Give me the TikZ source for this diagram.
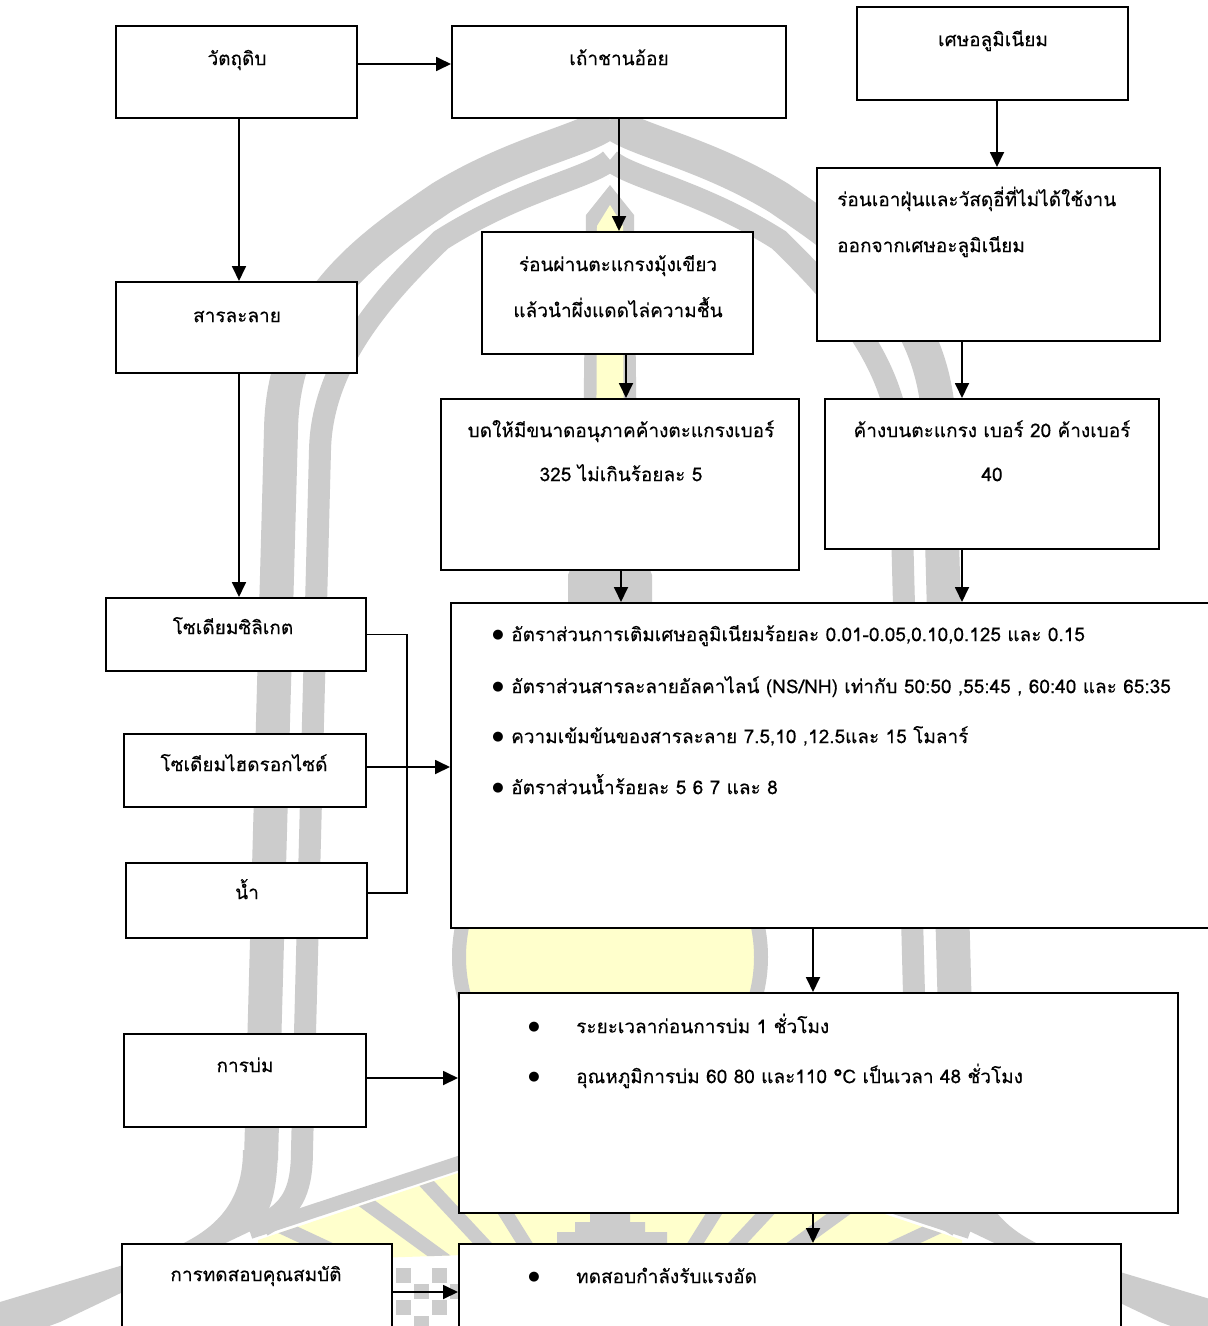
\documentclass[tikz,border=0pt]{standalone}
\usepackage{fontspec}
\newfontfamily\thaifont[Script=Thai, FakeBold=0.25]{Loma}
\newfontfamily\symfont{DejaVu Sans}
\usetikzlibrary{arrows.meta,fit}
\definecolor{wmgrey}{RGB}{204,204,204}
\definecolor{wmyellow}{RGB}{255,255,204}

% one half of the background crest (the other half is its mirror image)
\newcommand\crestHalf{%
  \fill[wmgrey] (243,1150) .. controls (243,1212) and (205,1238) .. (150,1257)
     -- (-10,1305) -- (-10,1348) -- (60,1322) -- (255,1229)
     .. controls (271,1214) and (277,1192) .. (278,1150) -- cycle;
  \draw[wmgrey, line width=34] (261,1160) -- (281,430)
     .. controls (283,300) and (380,240) .. (441,198)
     .. controls (520,150) and (590,140) .. (610,120);
  \draw[wmgrey, line width=22] (262,1226) .. controls (290,1210) and (302,1195) .. (302,1150)
     -- (320,450) .. controls (322,360) and (390,290) .. (441,240)
     .. controls (520,190) and (590,178) .. (610,160);
  \draw[wmgrey, line width=14] (250,1232) -- (610,1113);
}

\begin{document}
\begin{tikzpicture}[x=1pt, y=-1pt,
  box/.style={draw=black, line width=2pt, fill=white, inner sep=0pt},
  ln/.style={line width=1.8pt},
  arr/.style={ln, -{Triangle[length=15pt,width=14pt]}},
  lbl/.style={font=\thaifont\fontsize{19}{22}\selectfont, inner sep=0pt, anchor=mid, yshift=-4pt},
  lbll/.style={lbl, anchor=mid west},
  bul/.style={font=\symfont\fontsize{13}{15}\selectfont, inner sep=0pt}]
\path[use as bounding box, clip] (0,0) rectangle (1208,1326);
\fill[white] (0,0) rectangle (1208,1326);

% ---------- background crest ----------
\fill[wmyellow] (258,1240) -- (610,1122) -- (962,1240) -- (962,1262) -- (610,1250) -- (258,1262) -- cycle;
\begin{scope}
  \clip (258,1240) -- (610,1122) -- (962,1240) -- (962,1262) -- (610,1250) -- (258,1262) -- cycle;
  \foreach \a in {205,216,227,238,302,313,324,335}
    \draw[wmgrey, line width=14] (610,1380) -- ++(\a:420);
\end{scope}
\fill[wmgrey] (557,1260) -- (557,1232) -- (575,1232) -- (575,1222) -- (590,1222) -- (590,1212)
   -- (630,1212) -- (630,1222) -- (645,1222) -- (645,1232) -- (667,1232) -- (667,1260) -- cycle;
\draw[wmgrey, line width=14, fill=wmyellow] (610,957) circle (151);
\fill[wmgrey] (610,185) -- (634,215) -- (638,540) -- (652,575) -- (652,610) -- (568,610)
   -- (568,575) -- (582,540) -- (586,215) -- cycle;
\fill[wmyellow] (610,205) -- (623,226) -- (624,560) -- (596,560) -- (597,226) -- cycle;
\crestHalf
\begin{scope}[xshift=1220pt, xscale=-1]
  \crestHalf
\end{scope}
\foreach \p in {(396,1300),(414,1284),(432,1268),(414,1316),(432,1300),(450,1284),(396,1268)}
  \fill[wmgrey] \p rectangle ++(15,15);

% ---------- helper lines for connectors ----------
\coordinate (x239) at (239,0);
\coordinate (x619) at (619,0);
\coordinate (x626) at (626,0);
\coordinate (x621) at (621,0);
\coordinate (x962) at (962,0);
\coordinate (x997) at (997,0);
\coordinate (x813) at (813,0);
\coordinate (x407) at (407,0);
\coordinate (y64) at (0,64);
\coordinate (y767) at (0,767);
\coordinate (y893) at (0,893);
\coordinate (y1078) at (0,1078);
\coordinate (y1292) at (0,1292);

% ---------- boxes ----------
\node[box, fit={(116,26) (357,118)}] (raw) {};
\node[box, fit={(452,26) (786,118)}] (ash) {};
\node[box, fit={(857,7) (1128,100)}] (alu) {};
\node[box, fit={(116,282) (357,373)}] (sol) {};
\node[box, fit={(482,232) (753,354)}] (sieve) {};
\node[box, fit={(817,168) (1160,341)}] (clean) {};
\node[box, fit={(441,399) (799,570)}] (grind) {};
\node[box, fit={(825,399) (1159,549)}] (keep) {};
\node[box, fit={(106,598) (366,671)}] (sili) {};
\node[box, fit={(124,734) (366,807)}] (naoh) {};
\node[box, fit={(126,863) (367,938)}] (water) {};
\node[box, fit={(451,603) (1216,928)}] (mix) {};
\node[box, fit={(124,1034) (366,1127)}] (curing) {};
\node[box, fit={(459,993) (1178,1213)}] (cure) {};
\node[box, fit={(122,1244) (392,1340)}] (testing) {};
\node[box, fit={(459,1244) (1121,1340)}] (test) {};

% ---------- texts ----------
\node[lbl] (raw-t) at (237,59) {วัตถุดิบ};
\node[lbl] (ash-t) at (619,59) {เถ้าชานอ้อย};
\node[lbl] (alu-t) at (993,40) {เศษอลูมิเนียม};
\node[lbl] (sol-t) at (237,316) {สารละลาย};
\node[lbl] (sieve-t1) at (618,265) {ร่อนผ่านตะแกรงมุ้งเขียว};
\node[lbl] (sieve-t2) at (618,311) {แล้วนำผึ่งแดดไล่ความชื้น};
\node[lbll] (clean-t1) at (837,200) {ร่อนเอาฝุ่นและวัสดุอี่ที่ไม่ได้ใช้งาน};
\node[lbll] (clean-t2) at (837,246) {ออกจากเศษอะลูมิเนียม};
\node[lbl] (grind-t1) at (621,431) {บดให้มีขนาดอนุภาคค้างตะแกรงเบอร์};
\node[lbl] (grind-t2) at (621,475) {325 ไม่เกินร้อยละ 5};
\node[lbl] (keep-t1) at (992,431) {ค้างบนตะแกรง เบอร์ 20 ค้างเบอร์};
\node[lbl] (keep-t2) at (992,475) {40};
\node[lbl] (sili-t) at (233,628) {โซเดียมซิลิเกต};
\node[lbl] (naoh-t) at (244,765) {โซเดียมไฮดรอกไซด์};
\node[lbl] (water-t) at (247,893) {น้ำ};
\node[lbl] (curing-t) at (245,1066) {การบ่ม};
\node[lbl] (testing-t) at (256,1275) {การทดสอบคุณสมบัติ};

\node[bul] (mix-b1) at (498,635) {●};
\node[bul] (mix-b2) at (498,687) {●};
\node[bul] (mix-b3) at (498,737) {●};
\node[bul] (mix-b4) at (498,788) {●};
\node[lbll] (mix-t1) at (511,635) {อัตราส่วนการเติมเศษอลูมิเนียมร้อยละ 0.01-0.05,0.10,0.125 และ 0.15};
\node[lbll] (mix-t2) at (511,687) {อัตราส่วนสารละลายอัลคาไลน์ (NS/NH) เท่ากับ 50:50 ,55:45 , 60:40 และ 65:35};
\node[lbll] (mix-t3) at (511,737) {ความเข้มข้นของสารละลาย 7.5,10 ,12.5และ 15 โมลาร์};
\node[lbll] (mix-t4) at (511,788) {อัตราส่วนน้ำร้อยละ 5 6 7 และ 8};

\node[bul] (cure-b1) at (534,1027) {●};
\node[bul] (cure-b2) at (534,1077) {●};
\node[lbll] (cure-t1) at (576,1027) {ระยะเวลาก่อนการบ่ม 1 ชั่วโมง};
\node[lbll] (cure-t2) at (576,1077) {อุณหภูมิการบ่ม 60 80 และ110 °C เป็นเวลา 48 ชั่วโมง};

\node[bul] (test-b1) at (534,1277) {●};
\node[lbll] (test-t1) at (576,1277) {ทดสอบกำลังรับแรงอัด};

% ---------- connectors ----------
\draw[arr] (raw.east |- y64) -- (ash.west |- y64);
\draw[arr] (raw.south -| x239) -- (sol.north -| x239);
\draw[arr] (ash.south -| x619) -- (sieve.north -| x619);
\draw[arr] (alu.south -| x997) -- (clean.north -| x997);
\draw[arr] (sieve.south -| x626) -- (grind.north -| x626);
\draw[arr] (clean.south -| x962) -- (keep.north -| x962);
\draw[arr] (grind.south -| x621) -- (mix.north -| x621);
\draw[arr] (keep.south -| x962) -- (mix.north -| x962);
\draw[arr] (sol.south -| x239) -- (sili.north -| x239);
\draw[ln] (sili.east) -- (x407 |- sili.east) -- (x407 |- y893) -- (water.east |- y893);
\draw[arr] (naoh.east |- y767) -- (mix.west |- y767);
\draw[arr] (mix.south -| x813) -- (cure.north -| x813);
\draw[arr] (curing.east |- y1078) -- (cure.west |- y1078);
\draw[arr] (cure.south -| x813) -- (test.north -| x813);
\draw[arr] (testing.east |- y1292) -- (test.west |- y1292);
\end{tikzpicture}
\end{document}
